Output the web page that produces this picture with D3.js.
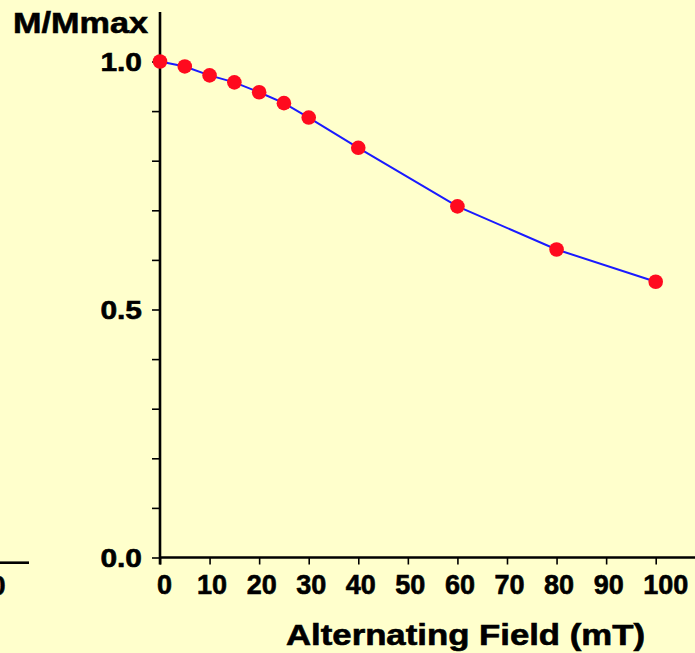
<!DOCTYPE html>
<html>
<head>
<meta charset="utf-8">
<script src="https://cdn.jsdelivr.net/npm/d3@7"></script>
<style>
  html, body { margin: 0; padding: 0; background: #ffffcc; }
  svg { display: block; }
  text { font-family: "Liberation Sans", Arial, Helvetica, sans-serif; font-weight: bold; fill: #000; stroke: #000; stroke-width: 0.6px; }
</style>
</head>
<body>
<svg id="chart" width="695" height="653"></svg>
<script>
// AF demagnetization: normalized remanence vs peak alternating field
const fieldMT = [0, 5, 10, 15, 20, 25, 30, 40, 60, 80, 100];
const mOverMmax = [1.0, 0.99, 0.972, 0.958, 0.938, 0.916, 0.887, 0.826, 0.708, 0.621, 0.556];
const xTickValues = [0, 10, 20, 30, 40, 50, 60, 70, 80, 90, 100];
const yTickValues = [0, 0.1, 0.2, 0.3, 0.4, 0.5, 0.6, 0.7, 0.8, 0.9, 1.0];
const yLabelled = [0, 0.5, 1.0];

const svg = d3.select("#chart");
const W = 695, H = 653;

svg.append("rect").attr("width", W).attr("height", H).attr("fill", "#ffffcc");

const x = d3.scaleLinear().domain([0, 100]).range([160, 655.7]);
const y = d3.scaleLinear().domain([0, 1]).range([557.5, 61.5]);

// widen a text element's glyphs by a factor, keeping its anchor
function widen(sel, k) {
  sel.each(function () {
    const len = this.getComputedTextLength();
    if (len > 0) {
      d3.select(this).attr("textLength", len * k).attr("lengthAdjust", "spacingAndGlyphs");
    }
  });
}

// x axis
const xAxis = d3.axisBottom(x).tickValues(xTickValues).tickSize(7).tickPadding(11)
  .tickFormat(d3.format("d"));
const gx = svg.append("g").attr("transform", `translate(0,${y(0)})`).call(xAxis);
gx.select(".domain").remove();
gx.selectAll(".tick line").attr("stroke", "#000").attr("stroke-width", 1.6);
gx.selectAll(".tick text")
  .attr("font-size", 27)
  .attr("text-anchor", d => d === 0 ? "middle" : "start")
  .attr("x", d => d === 0 ? 4 : -13)
  .attr("dy", "0.68em");
svg.append("line")
  .attr("x1", x(0)).attr("x2", W)
  .attr("y1", y(0)).attr("y2", y(0))
  .attr("stroke", "#000").attr("stroke-width", 2.6);

// y axis
const yAxis = d3.axisLeft(y).tickValues(yTickValues).tickSize(8).tickPadding(10)
  .tickFormat(d => yLabelled.some(v => Math.abs(v - d) < 1e-9) ? d3.format(".1f")(d) : "");
const gy = svg.append("g").attr("transform", `translate(${x(0)},0)`).call(yAxis);
gy.select(".domain").remove();
gy.selectAll(".tick line").attr("stroke", "#000").attr("stroke-width", 1.6);
gy.selectAll(".tick text").attr("font-size", 26).attr("dy", "0.34em").call(widen, 1.15);
svg.append("line")
  .attr("x1", x(0)).attr("x2", x(0))
  .attr("y1", 12).attr("y2", y(0) + 7)
  .attr("stroke", "#000").attr("stroke-width", 2.6);

// axis titles
svg.append("text")
  .attr("x", 13).attr("y", 33)
  .attr("font-size", 30)
  .attr("textLength", 135).attr("lengthAdjust", "spacingAndGlyphs")
  .text("M/Mmax");
svg.append("text")
  .attr("x", 286).attr("y", 645)
  .attr("font-size", 29)
  .attr("textLength", 359).attr("lengthAdjust", "spacingAndGlyphs")
  .text("Alternating Field (mT)");

// edge of the neighbouring panel's x axis
svg.append("line")
  .attr("x1", 0).attr("x2", 29).attr("y1", 562.7).attr("y2", 562.7)
  .attr("stroke", "#000").attr("stroke-width", 2.6);
svg.append("text")
  .attr("x", 5.5).attr("y", 595).attr("font-size", 27).attr("text-anchor", "end")
  .text("100");

// data line and markers
const pts = fieldMT.map((f, i) => [f, mOverMmax[i]]);
svg.append("path")
  .datum(pts)
  .attr("fill", "none")
  .attr("stroke", "#1a1aff")
  .attr("stroke-width", 2)
  .attr("d", d3.line().x(d => x(d[0])).y(d => y(d[1])));
svg.selectAll("circle.pt")
  .data(pts)
  .enter().append("circle")
  .attr("class", "pt")
  .attr("cx", d => x(d[0]))
  .attr("cy", d => y(d[1]))
  .attr("r", 7.3)
  .attr("fill", "#ff0a1e");
</script>
</body>
</html>
